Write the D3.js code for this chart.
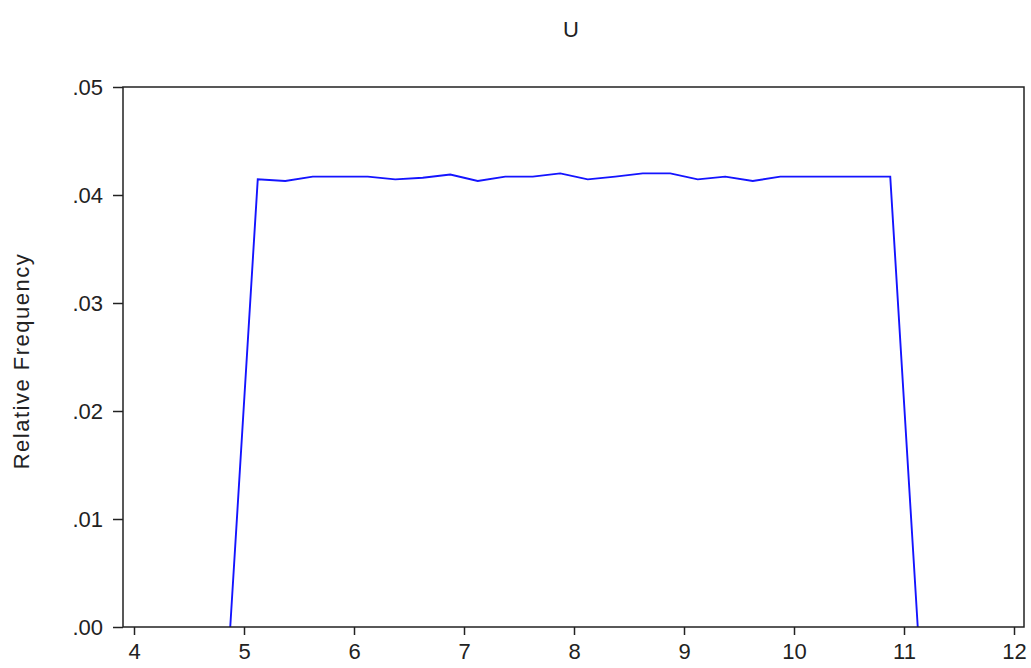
<!DOCTYPE html>
<html>
<head>
<meta charset="utf-8">
<script src="https://cdn.jsdelivr.net/npm/d3@7"></script>
<style>
  body { margin: 0; background: #fff; }
  text { font-family: "Liberation Sans", Arial, sans-serif; }
</style>
</head>
<body>
<div id="chart"></div>
<script>
// frequency polygon, bin width 0.25 over [5, 11]
var binMids = [5.125, 5.375, 5.625, 5.875, 6.125, 6.375, 6.625, 6.875,
               7.125, 7.375, 7.625, 7.875, 8.125, 8.375, 8.625, 8.875,
               9.125, 9.375, 9.625, 9.875, 10.125, 10.375, 10.625, 10.875];
var relFreq = [0.04145, 0.0413, 0.0417, 0.0417, 0.0417, 0.04145, 0.0416, 0.0419,
               0.0413, 0.0417, 0.0417, 0.0420, 0.04145, 0.0417, 0.0420, 0.0420,
               0.04145, 0.0417, 0.0413, 0.0417, 0.0417, 0.0417, 0.0417, 0.0417];
var xTicks = [4, 5, 6, 7, 8, 9, 10, 11, 12];
var yTicks = [0, 0.01, 0.02, 0.03, 0.04, 0.05];
var title = "U";
var yTitle = "Relative Frequency";

(function() {
  var width = 1031, height = 668;
  var left = 123, right = 1024, top = 87, bottom = 627;

  var svg = d3.select("#chart")
    .append("svg")
    .attr("width", width)
    .attr("height", height)

  // 4 -> 134px, 12 -> 1014px
  var x = d3.scaleLinear().domain([4, 12]).range([134, 1014])
  var y = d3.scaleLinear().domain([0, 0.05]).range([bottom, top])

  var pts = [[binMids[0] - 0.25, 0]]
  binMids.forEach(function(m, i) { pts.push([m, relFreq[i]]) })
  pts.push([binMids[binMids.length - 1] + 0.25, 0])

  var line = d3.line()
    .x(function(d) { return x(d[0]) })
    .y(function(d) { return y(d[1]) })

  svg.append("path")
    .datum(pts)
    .attr("d", line)
    .attr("fill", "none")
    .attr("stroke", "#1414ff")
    .attr("stroke-width", 1.9)

  // frame
  svg.append("rect")
    .attr("x", left)
    .attr("y", top)
    .attr("width", right - left)
    .attr("height", bottom - top)
    .attr("fill", "none")
    .attr("stroke", "#222")
    .attr("stroke-width", 1.5)

  var xAxis = svg.append("g")
    .attr("transform", "translate(0," + bottom + ")")
    .call(d3.axisBottom(x).tickValues(xTicks).tickSize(8).tickPadding(8)
      .tickFormat(d3.format("d")))
  xAxis.select(".domain").remove()

  var yAxis = svg.append("g")
    .attr("transform", "translate(" + left + ",0)")
    .call(d3.axisLeft(y).tickValues(yTicks).tickSize(10).tickPadding(10)
      .tickFormat(function(d) { return d3.format(".2f")(d).replace(/^0/, "") }))
  yAxis.select(".domain").remove()

  svg.selectAll(".tick line").attr("stroke", "#222").attr("stroke-width", 1.5)
  svg.selectAll(".tick text")
    .attr("fill", "#222")
    .style("font-size", "22px")
    .style("font-family", "'Liberation Sans', Arial, sans-serif")

  svg.append("text")
    .attr("x", 571)
    .attr("y", 37)
    .attr("text-anchor", "middle")
    .attr("fill", "#222")
    .style("font-size", "22px")
    .text(title)

  svg.append("text")
    .attr("transform", "translate(29,361) rotate(-90)")
    .attr("text-anchor", "middle")
    .attr("fill", "#222")
    .style("font-size", "22px")
    .style("letter-spacing", "1.5px")
    .text(yTitle)
})();
</script>
</body>
</html>
